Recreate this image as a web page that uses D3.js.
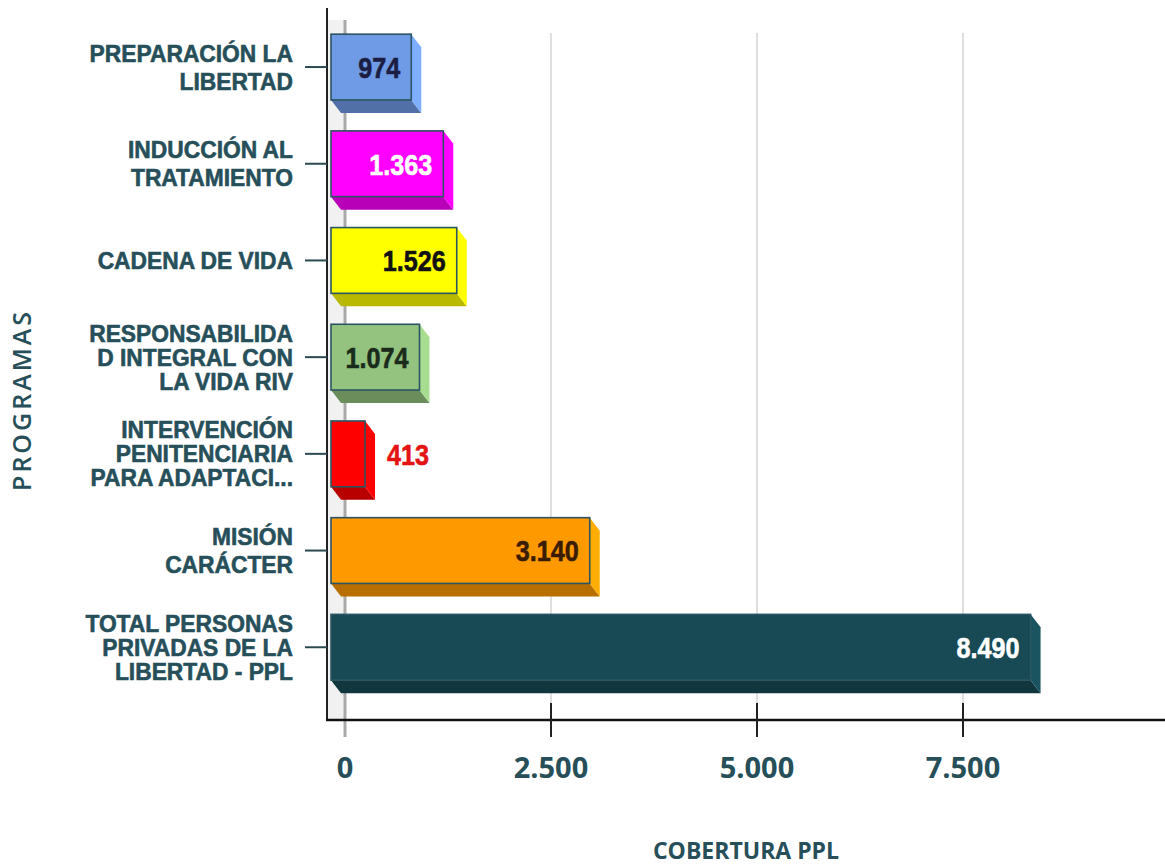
<!DOCTYPE html>
<html>
<head>
<meta charset="utf-8">
<script src="https://cdn.jsdelivr.net/npm/d3@7"></script>
<style>
  html, body { margin: 0; padding: 0; background: #fff; }
  svg { display: block; }
</style>
</head>
<body>
<div id="chart"></div>
<script>
// programas y cobertura PPL
const programas = [
  ["PREPARACIÓN LA", "LIBERTAD"],
  ["INDUCCIÓN AL", "TRATAMIENTO"],
  ["CADENA DE VIDA"],
  ["RESPONSABILIDA", "D INTEGRAL CON", "LA VIDA RIV"],
  ["INTERVENCIÓN", "PENITENCIARIA", "PARA ADAPTACI..."],
  ["MISIÓN", "CARÁCTER"],
  ["TOTAL PERSONAS", "PRIVADAS DE LA", "LIBERTAD - PPL"]
];
const cobertura = [974, 1363, 1526, 1074, 413, 3140, 8490];
const xTicks = [0, 2500, 5000, 7500];

const barColors = ["#6f9ae6", "#ff00ff", "#ffff00", "#93c37f", "#ff0000", "#ff9900", "#174a55"];
const labelColors = ["#1b1d42", "#ffffff", "#111111", "#1b2b1b", "#e41414", "#3a1d00", "#ffffff"];

const W = 1165, H = 865;
const textCol = "#264f5a";
const depthX = 10, depthY = 13, shiftX = 14;
const narrow = "'Liberation Sans', Arial, sans-serif";

const fmt = d3.formatLocale({ decimal: ",", thousands: ".", grouping: [3], currency: ["", ""] }).format(",d");

const svg = d3.select("#chart").append("svg")
  .attr("width", W)
  .attr("height", H);

const ids = programas.map((d, i) => i);

const x = d3.scaleLinear().domain([0, 10000]).range([345, 1169]);
const y = d3.scaleBand().domain(ids).range([18.7, 695.6])
  .paddingInner(0.32).paddingOuter(0.16);

const axisY = 720;

// left wall of the 3d plot
svg.append("rect")
  .attr("x", 328).attr("y", 20)
  .attr("width", x(0) - 328).attr("height", axisY - 20)
  .attr("fill", "#f1f1f1");

// gridlines on the back wall
svg.append("g").selectAll("line")
  .data(xTicks.filter(d => d > 0))
  .enter().append("line")
  .attr("x1", d => x(d)).attr("x2", d => x(d))
  .attr("y1", 33).attr("y2", 705)
  .attr("stroke", "#d4d4d4")
  .attr("stroke-width", 1.5);

svg.append("line")
  .attr("x1", x(0)).attr("x2", x(0))
  .attr("y1", 20).attr("y2", 737)
  .attr("stroke", "#a9a9a9")
  .attr("stroke-width", 3);

// bars (front face + side + bottom)
const bars = svg.append("g").selectAll("g")
  .data(cobertura)
  .enter().append("g");

bars.each(function (v, i) {
  const g = d3.select(this);
  const x0 = x(0) - shiftX;
  const x1 = x(v) - shiftX;
  const y0 = y(i);
  const y1 = y(i) + y.bandwidth();
  const c = d3.color(barColors[i]);

  g.append("polygon")
    .attr("points", [[x0, y1], [x1, y1], [x1 + depthX, y1 + depthY], [x0 + depthX, y1 + depthY]].join(" "))
    .attr("fill", c.darker(0.9));

  g.append("polygon")
    .attr("points", [[x1, y0], [x1 + depthX, y0 + depthY], [x1 + depthX, y1 + depthY], [x1, y1]].join(" "))
    .attr("fill", c.brighter(0.35));

  g.append("rect")
    .attr("x", x0).attr("y", y0)
    .attr("width", x1 - x0).attr("height", y1 - y0)
    .attr("fill", barColors[i])
    .attr("stroke", "#2b5562")
    .attr("stroke-width", 1.6);

  const inside = (x1 - x0) > 60;
  const tx = inside ? x1 - 11 : x1 + depthX + 12;
  g.append("text")
    .attr("transform", `translate(${tx},${(y0 + y1) / 2}) scale(0.84,1)`)
    .attr("dy", "0.36em")
    .attr("text-anchor", inside ? "end" : "start")
    .attr("font-family", narrow)
    .attr("font-weight", "700")
    .attr("font-size", "30px")
    .attr("fill", labelColors[i])
    .attr("stroke", labelColors[i])
    .attr("stroke-width", 0.6)
    .text(fmt(v));
});

// y axis
svg.append("line")
  .attr("x1", 327).attr("x2", 327)
  .attr("y1", 8).attr("y2", axisY + 1)
  .attr("stroke", "#222")
  .attr("stroke-width", 2);

svg.append("g").selectAll("line")
  .data(ids)
  .enter().append("line")
  .attr("x1", 305).attr("x2", 327)
  .attr("y1", d => y(d) + y.bandwidth() / 2)
  .attr("y2", d => y(d) + y.bandwidth() / 2)
  .attr("stroke", "#2b4a50")
  .attr("stroke-width", 2);

const catLabels = svg.append("g").selectAll("text")
  .data(programas)
  .enter().append("text")
  .attr("text-anchor", "end")
  .attr("font-family", narrow)
  .attr("font-weight", "700")
  .attr("font-size", "24px")
  .attr("fill", textCol)
  .attr("stroke", textCol)
  .attr("stroke-width", 0.6);

catLabels.each(function (lines, i) {
  const lh = lines.length > 2 ? 24 : 28;
  const cy = y(i) + y.bandwidth() / 2;
  const top = cy - (lines.length - 1) * lh / 2;
  d3.select(this)
    .attr("transform", `translate(293,0) scale(0.95,1)`)
    .selectAll("tspan")
    .data(lines)
    .enter().append("tspan")
    .attr("x", 0)
    .attr("y", (d, k) => top + k * lh)
    .attr("dy", "0.36em")
    .text(d => d);
});

// x axis
svg.append("line")
  .attr("x1", 326).attr("x2", W)
  .attr("y1", axisY).attr("y2", axisY)
  .attr("stroke", "#111")
  .attr("stroke-width", 2.5);

svg.append("g").selectAll("line")
  .data(xTicks.filter(d => d > 0))
  .enter().append("line")
  .attr("x1", d => x(d)).attr("x2", d => x(d))
  .attr("y1", 703).attr("y2", 737)
  .attr("stroke", "#222")
  .attr("stroke-width", 2);

svg.append("g").selectAll("text")
  .data(xTicks)
  .enter().append("text")
  .attr("x", d => x(d))
  .attr("y", 778)
  .attr("text-anchor", "middle")
  .attr("font-family", "'Open Sans', sans-serif")
  .attr("font-weight", "700")
  .attr("font-size", "29px")
  .attr("fill", textCol)
  .text(d => fmt(d));

svg.append("text")
  .attr("x", 746)
  .attr("y", 859)
  .attr("text-anchor", "middle")
  .attr("font-family", "'Open Sans', sans-serif")
  .attr("font-weight", "700")
  .attr("font-size", "23px")
  .attr("fill", textCol)
  .text("COBERTURA PPL");

svg.append("text")
  .attr("transform", "translate(31,400) rotate(-90)")
  .attr("text-anchor", "middle")
  .attr("font-family", "'Open Sans', sans-serif")
  .attr("font-weight", "600")
  .attr("font-size", "25px")
  .attr("letter-spacing", "3px")
  .attr("fill", textCol)
  .text("PROGRAMAS");
</script>
</body>
</html>
